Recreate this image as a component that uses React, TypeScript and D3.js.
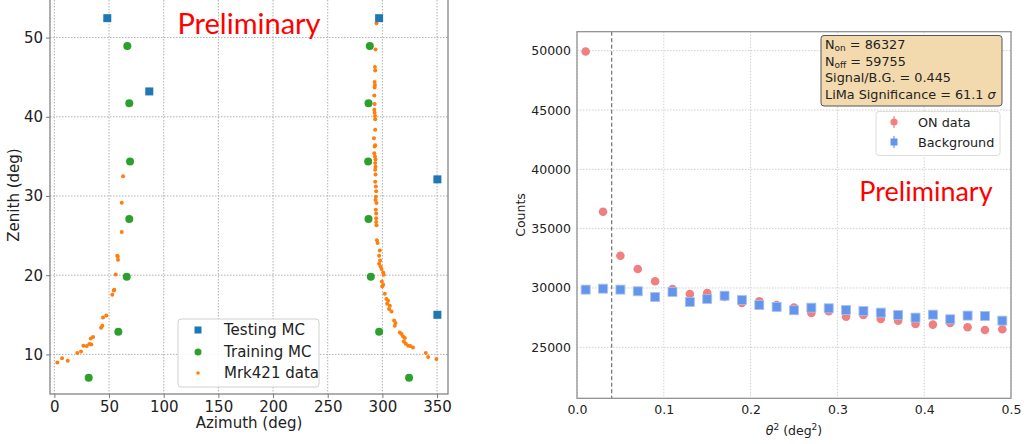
import React, { useRef, useEffect } from "react";
import * as d3 from "d3";

// left panel: pointing directions
const testingAz = [48.4, 86.8, 297.0, 350.3, 350.3];
const testingZen = [52.45, 43.2, 52.45, 32.1, 15.0];

const trainingAz = [66.7, 68.5, 69.2, 68.5, 66.2, 58.5, 31.4, 288.5, 287.3, 287.0, 287.3, 289.4, 297.0, 324.4];
const trainingZen = [48.95, 41.7, 34.35, 27.1, 19.8, 12.86, 7.06, 48.95, 41.7, 34.35, 27.1, 19.8, 12.86, 7.06];

const mrkAz = [
  2.7, 7.0, 12.2, 21.0, 24.4, 26.5, 29.6, 32.0, 33.8, 33.3, 35.4, 42.7, 43.9, 44.5, 47.5,
  53.0, 54.3, 54.8, 56.1, 57.6, 57.9, 58.2, 61.6, 61.6, 62.8,
  294.6, 293.7, 293.2, 293.4, 292.9, 293.2, 292.9, 292.6, 292.9, 292.6, 292.9, 293.2, 293.4,
  293.4, 292.3, 292.9, 293.4, 292.6, 293.2, 293.7, 293.4, 293.7, 293.4, 293.7, 293.4, 294.0,
  294.3, 294.0, 293.7, 294.6, 294.0, 294.3, 294.3, 294.6, 294.3, 295.0, 295.6, 297.6, 297.0,
  297.9, 297.0, 298.3, 299.2, 300.7, 301.3, 299.5, 300.7, 299.8, 302.2, 303.7, 305.2, 304.3,
  306.8, 306.1, 308.3, 310.7, 312.0, 311.3, 315.9, 317.5, 318.9, 320.5, 319.6, 321.4, 323.5,
  325.5, 328.0, 339.7, 341.8, 349.4,
];
const mrkZen = [
  8.99, 9.5, 9.2, 10.18, 10.38, 11.1, 11.06, 11.31, 11.26, 12.02, 12.2, 13.37, 13.62, 14.67, 14.92,
  17.53, 18.08, 18.16, 20.1, 22.45, 22.37, 21.95, 25.44, 29.14, 32.5,
  51.8, 48.5, 46.27, 45.84, 44.4, 44.0, 43.7, 42.7, 41.6, 40.9, 40.5, 40.1, 39.7,
  38.35, 37.3, 36.25, 36.4, 35.4, 35.0, 34.6, 34.15, 33.7, 33.3, 32.7, 31.8, 31.2,
  30.6, 29.9, 29.5, 29.1, 28.25, 27.8, 27.2, 26.3, 26.7, 24.4, 24.05, 23.12, 22.45,
  21.86, 21.44, 21.1, 20.78, 20.35, 20.06, 19.2, 18.8, 18.58, 17.66, 16.99, 16.78, 16.4,
  16.15, 15.73, 15.43, 14.29, 13.96, 13.62, 12.78, 12.57, 12.27, 12.07, 11.64, 11.35, 11.1,
  11.05, 10.88, 10.17, 9.67, 9.42,
];

const azTicks = [0, 50, 100, 150, 200, 250, 300, 350];
const zenTicks = [10, 20, 30, 40, 50];

// right panel: theta^2 distribution
const theta2 = [0.01, 0.03, 0.05, 0.07, 0.09, 0.11, 0.13, 0.15, 0.17, 0.19, 0.21, 0.23, 0.25,
  0.27, 0.29, 0.31, 0.33, 0.35, 0.37, 0.39, 0.41, 0.43, 0.45, 0.47, 0.49];
const onCounts = [49930, 36430, 32720, 31600, 30565, 29916, 29494, 29580, 29240, 28736, 28880,
  28567, 28340, 27893, 28035, 27580, 27725, 27387, 27245, 26966, 26910, 27050, 26690, 26460, 26520];
const bgCounts = [29860, 29940, 29860, 29720, 29240, 29663, 28820, 29073, 29350, 28989, 28567,
  28400, 28120, 28340, 28286, 28146, 28061, 27920, 27725, 27500, 27750, 27360, 27670, 27640, 27245];
const t2Ticks = [0, 0.1, 0.2, 0.3, 0.4, 0.5];
const countTicks = [25000, 30000, 35000, 40000, 45000, 50000];
const theta2Cut = 0.04;

const FONT = "DejaVu Sans, sans-serif";

function App() {
  const svgRef = useRef<SVGSVGElement>(null);

  useEffect(() => {
    const svg = d3.select(svgRef.current);
    svg.selectAll("*").remove();

    // ---------- left panel ----------
    const L = { left: 50, right: 448, top: -6, bottom: 394 };
    const x = d3.scaleLinear().domain([-4, 360]).range([L.left, L.right]);
    const y = d3.scaleLinear().domain([5, 55.5]).range([L.bottom, L.top]);

    const lg = svg.append("g");
    lg.append("g")
      .selectAll("line.v")
      .data(azTicks)
      .join("line")
      .attr("x1", (d) => x(d)).attr("x2", (d) => x(d))
      .attr("y1", L.top).attr("y2", L.bottom)
      .attr("stroke", "#b0b0b0").attr("stroke-dasharray", "1.5,1.5");
    lg.append("g")
      .selectAll("line.h")
      .data(zenTicks)
      .join("line")
      .attr("x1", L.left).attr("x2", L.right)
      .attr("y1", (d) => y(d)).attr("y2", (d) => y(d))
      .attr("stroke", "#b0b0b0").attr("stroke-dasharray", "1.5,1.5");

    lg.append("g")
      .selectAll("circle")
      .data(mrkAz)
      .join("circle")
      .attr("cx", (d) => x(d))
      .attr("cy", (d, i) => y(mrkZen[i]))
      .attr("r", 2)
      .attr("fill", "#ff7f0e");
    lg.append("g")
      .selectAll("circle")
      .data(trainingAz)
      .join("circle")
      .attr("cx", (d) => x(d))
      .attr("cy", (d, i) => y(trainingZen[i]))
      .attr("r", 4)
      .attr("fill", "#2ca02c");
    lg.append("g")
      .selectAll("rect")
      .data(testingAz)
      .join("rect")
      .attr("x", (d) => x(d) - 4)
      .attr("y", (d, i) => y(testingZen[i]) - 4)
      .attr("width", 8).attr("height", 8)
      .attr("fill", "#1f77b4");

    lg.append("rect")
      .attr("x", L.left).attr("y", L.top)
      .attr("width", L.right - L.left).attr("height", L.bottom - L.top)
      .attr("fill", "none").attr("stroke", "#7a7a7a").attr("stroke-width", 1.2);

    const lxAxis = lg.append("g")
      .attr("transform", `translate(0,${L.bottom})`)
      .call(d3.axisBottom(x).tickValues(azTicks).tickSize(4).tickSizeOuter(0).tickPadding(3));
    const lyAxis = lg.append("g")
      .attr("transform", `translate(${L.left},0)`)
      .call(d3.axisLeft(y).tickValues(zenTicks).tickSize(4).tickSizeOuter(0).tickPadding(3));
    [lxAxis, lyAxis].forEach((a) => {
      a.select(".domain").remove();
      a.selectAll("line").attr("stroke", "#7a7a7a");
      a.selectAll("text").attr("font-family", FONT).attr("font-size", 15).attr("fill", "#222");
    });

    lg.append("text")
      .attr("x", 249).attr("y", 428)
      .attr("text-anchor", "middle")
      .attr("font-family", FONT).attr("font-size", 15).attr("fill", "#222")
      .text("Azimuth (deg)");
    lg.append("text")
      .attr("transform", `translate(19,195) rotate(-90)`)
      .attr("text-anchor", "middle")
      .attr("font-family", FONT).attr("font-size", 15).attr("fill", "#222")
      .text("Zenith (deg)");

    // legend
    const leg = lg.append("g");
    leg.append("rect")
      .attr("x", 178).attr("y", 319).attr("width", 141).attr("height", 68)
      .attr("rx", 3).attr("fill", "white").attr("fill-opacity", 0.85)
      .attr("stroke", "#d0d0d0");
    leg.append("rect").attr("x", 194.5).attr("y", 326.5).attr("width", 7).attr("height", 7).attr("fill", "#1f77b4");
    leg.append("circle").attr("cx", 198).attr("cy", 352).attr("r", 3.5).attr("fill", "#2ca02c");
    leg.append("circle").attr("cx", 198).attr("cy", 373).attr("r", 1.8).attr("fill", "#ff7f0e");
    ["Testing MC", "Training MC", "Mrk421 data"].forEach((t, i) => {
      leg.append("text")
        .attr("x", 224).attr("y", 330 + i * 21.5).attr("dy", "0.36em")
        .attr("font-family", FONT).attr("font-size", 15).attr("fill", "#222")
        .text(t);
    });

    lg.append("text")
      .attr("x", 249).attr("y", 34)
      .attr("text-anchor", "middle")
      .attr("font-family", "Lato, sans-serif").attr("font-size", 29).attr("fill", "red")
      .text("Preliminary");

    // ---------- right panel ----------
    const R = { left: 577, right: 1011, top: 31.7, bottom: 398.3 };
    const xr = d3.scaleLinear().domain([0, 0.5]).range([R.left, R.right]);
    const yr = d3.scaleLinear().domain([20700, 51600]).range([R.bottom, R.top]);

    const rg = svg.append("g");
    rg.append("g")
      .selectAll("line")
      .data(t2Ticks)
      .join("line")
      .attr("x1", (d) => xr(d)).attr("x2", (d) => xr(d))
      .attr("y1", R.top).attr("y2", R.bottom)
      .attr("stroke", "#cfcfcf").attr("stroke-dasharray", "1.5,1.5");
    rg.append("g")
      .selectAll("line")
      .data(countTicks)
      .join("line")
      .attr("x1", R.left).attr("x2", R.right)
      .attr("y1", (d) => yr(d)).attr("y2", (d) => yr(d))
      .attr("stroke", "#cfcfcf").attr("stroke-dasharray", "1.5,1.5");

    rg.append("line")
      .attr("x1", xr(theta2Cut)).attr("x2", xr(theta2Cut))
      .attr("y1", R.top).attr("y2", R.bottom)
      .attr("stroke", "#555").attr("stroke-width", 1).attr("stroke-dasharray", "4,2.5");

    rg.append("g")
      .selectAll("circle")
      .data(theta2)
      .join("circle")
      .attr("cx", (d) => xr(d))
      .attr("cy", (d, i) => yr(onCounts[i]))
      .attr("r", 4.3)
      .attr("fill", "#F08080");
    rg.append("g")
      .selectAll("rect")
      .data(theta2)
      .join("rect")
      .attr("x", (d) => xr(d) - 4.5)
      .attr("y", (d, i) => yr(bgCounts[i]) - 4.5)
      .attr("width", 9).attr("height", 9)
      .attr("fill", "#6495ED")
      .attr("stroke", "#a9c2f2").attr("stroke-width", 0.8);

    rg.append("rect")
      .attr("x", R.left).attr("y", R.top)
      .attr("width", R.right - R.left).attr("height", R.bottom - R.top)
      .attr("fill", "none").attr("stroke", "#8a8a8a").attr("stroke-width", 1.2);

    const rxAxis = rg.append("g")
      .attr("transform", `translate(0,${R.bottom})`)
      .call(d3.axisBottom(xr).tickValues(t2Ticks).tickFormat(d3.format(".1f")).tickSize(0).tickPadding(7));
    const ryAxis = rg.append("g")
      .attr("transform", `translate(${R.left},0)`)
      .call(d3.axisLeft(yr).tickValues(countTicks).tickFormat(d3.format("d")).tickSize(0).tickPadding(6));
    [rxAxis, ryAxis].forEach((a) => {
      a.select(".domain").remove();
      a.selectAll("text").attr("font-family", FONT).attr("font-size", 12.5).attr("fill", "#222");
    });

    const xl = rg.append("text")
      .attr("x", 794).attr("y", 435)
      .attr("text-anchor", "middle")
      .attr("font-family", FONT).attr("font-size", 12.5).attr("fill", "#222");
    xl.append("tspan").attr("font-style", "italic").text("θ");
    xl.append("tspan").attr("font-size", 9).attr("dy", -5).text("2");
    xl.append("tspan").attr("dy", 5).text(" (deg");
    xl.append("tspan").attr("font-size", 9).attr("dy", -5).text("2");
    xl.append("tspan").attr("dy", 5).text(")");
    rg.append("text")
      .attr("transform", `translate(525,215) rotate(-90)`)
      .attr("text-anchor", "middle")
      .attr("font-family", FONT).attr("font-size", 12.5).attr("fill", "#222")
      .text("Counts");

    // stats box
    const box = rg.append("g");
    box.append("rect")
      .attr("x", 821).attr("y", 35.5).attr("width", 181).attr("height", 70.5)
      .attr("rx", 3).attr("fill", "#F3DAAE").attr("stroke", "#555").attr("stroke-width", 1);
    const boxText = (i: number) =>
      box.append("text")
        .attr("x", 825).attr("y", 49 + i * 16.5)
        .attr("font-family", FONT).attr("font-size", 12.8).attr("fill", "#222");
    const l1 = boxText(0);
    l1.append("tspan").text("N");
    l1.append("tspan").attr("font-size", 9).attr("dy", 2).text("on");
    l1.append("tspan").attr("dy", -2).text(" = 86327");
    const l2 = boxText(1);
    l2.append("tspan").text("N");
    l2.append("tspan").attr("font-size", 9).attr("dy", 2).text("off");
    l2.append("tspan").attr("dy", -2).text(" = 59755");
    boxText(2).text("Signal/B.G. = 0.445");
    const l4 = boxText(3);
    l4.append("tspan").text("LiMa Significance = 61.1 ");
    l4.append("tspan").attr("font-style", "italic").text("σ");

    // legend
    const rleg = rg.append("g");
    rleg.append("rect")
      .attr("x", 876).attr("y", 111.5).attr("width", 124).attr("height", 44)
      .attr("rx", 3).attr("fill", "white").attr("fill-opacity", 0.85)
      .attr("stroke", "#dcdcdc");
    rleg.append("line").attr("x1", 894).attr("x2", 894).attr("y1", 116).attr("y2", 128)
      .attr("stroke", "#F08080").attr("stroke-width", 1.2);
    rleg.append("circle").attr("cx", 894).attr("cy", 122).attr("r", 3.6).attr("fill", "#F08080");
    rleg.append("line").attr("x1", 894).attr("x2", 894).attr("y1", 136).attr("y2", 148)
      .attr("stroke", "#6495ED").attr("stroke-width", 1.2);
    rleg.append("rect").attr("x", 890.5).attr("y", 138.5).attr("width", 7).attr("height", 7).attr("fill", "#6495ED");
    ["ON data", "Background"].forEach((t, i) => {
      rleg.append("text")
        .attr("x", 918).attr("y", 122 + i * 20).attr("dy", "0.36em")
        .attr("font-family", FONT).attr("font-size", 12.8).attr("fill", "#222")
        .text(t);
    });

    rg.append("text")
      .attr("x", 926).attr("y", 201)
      .attr("text-anchor", "middle")
      .attr("font-family", "Lato, sans-serif").attr("font-size", 27).attr("fill", "red")
      .text("Preliminary");
  }, []);

  return (
    <svg
      ref={svgRef}
      width={1034}
      height={444}
      style={{ position: "absolute", left: 0, top: 0, background: "white" }}
    ></svg>
  );
}

export default App;
